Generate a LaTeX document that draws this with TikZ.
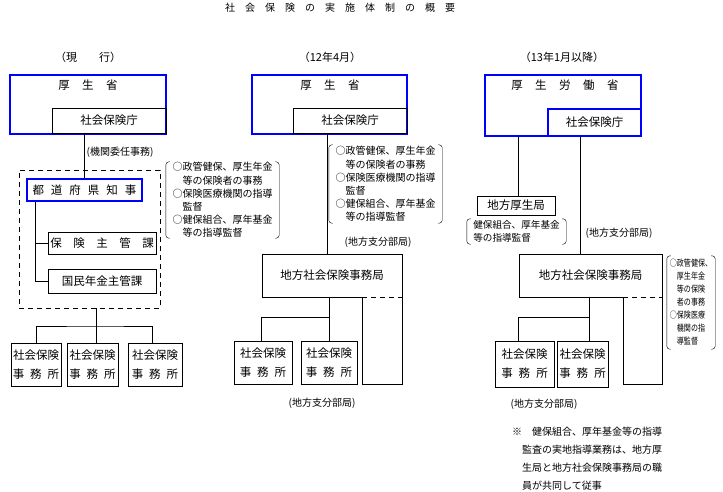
\documentclass[tikz,border=0pt]{standalone}
\usepackage{fontspec}
\setmainfont{Noto Sans CJK JP}
\newfontfamily\narrowjp[FakeStretch=0.78]{Noto Sans CJK JP}
\usetikzlibrary{positioning,calc}

% round brackets on both sides of a note
\newcommand{\parens}[1]{%
  \draw[rounded corners=3pt] ([xshift=4pt]#1.north west) -- (#1.north west) -- (#1.south west) -- ([xshift=4pt]#1.south west);
  \draw[rounded corners=3pt] ([xshift=-4pt]#1.north east) -- (#1.north east) -- (#1.south east) -- ([xshift=-4pt]#1.south east);}

\begin{document}
\begin{tikzpicture}[
  x=1pt, y=-1pt,
  box/.style={draw, line width=0.9pt, inner sep=0pt, align=center, font=\fontsize{11.5}{19}\selectfont},
  bluebox/.style={box, draw=blue, line width=1.2pt},
  office/.style={box, minimum height=43pt},
  note/.style={inner xsep=6pt, inner ysep=0pt, align=left, font=\fontsize{10}{13.2}\selectfont},
  lbl/.style={inner sep=0pt, font=\fontsize{10}{12}\selectfont},
  head/.style={inner sep=0pt, font=\fontsize{11}{13}\selectfont},
  conn/.style={line width=0.9pt}
]
  \useasboundingbox (0,0) rectangle (723,492);

  \node[lbl] (title) at (340,8) {社　会　保　険　の　実　施　体　制　の　概　要};
  \node[head] (hd1) at (88,57) {（現　　行）};
  \node[head] (hd2) at (330,57) {（12年4月）};
  \node[head] (hd3) at (562,57) {（13年1月以降）};

  % --- current system
  \node[bluebox, minimum width=156pt, minimum height=59pt] (mhw1) at (88,104.5) {};
  \node[head, font=\fontsize{11.5}{13}\selectfont] (mhw1t) at (88,85) {厚\hspace{12.5pt}生\hspace{12.5pt}省};
  \node[box, minimum width=114pt, minimum height=25pt] (sia1) at (109,120.5) {社会保険庁};
  \node[draw, dashed, dash pattern=on 5pt off 4pt, line width=0.9pt, minimum width=141pt, minimum height=138pt] (pref) at (89.5,239) {};
  \node[bluebox, minimum width=115pt, minimum height=22pt] (gov) at (84.5,190) {都\hspace{7pt}道\hspace{7pt}府\hspace{7pt}県\hspace{7pt}知\hspace{7pt}事};
  \node[box, minimum width=108pt, minimum height=22pt] (ins) at (102,243) {保\hspace{11.5pt}険\hspace{11.5pt}主\hspace{11.5pt}管\hspace{11.5pt}課};
  \node[box, minimum width=108pt, minimum height=24pt] (npc) at (102,281) {国民年金主管課};
  \node[lbl] (agency) at (120,152) {(機関委任事務)};
  \node[note, minimum width=113pt, minimum height=76pt] (note1) at (222.5,200) {○政管健保、厚生年金\\　等の保険者の事務\\○保険医療機関の指導\\　監督\\○健保組合、厚年基金\\　等の指導監督};
  \parens{note1}
  \node[office, minimum width=50pt] (o11) at (36,364.5) {社会保険\\事\hspace{6pt}務\hspace{6pt}所};
  \node[office, minimum width=51pt] (o12) at (92.5,364.5) {社会保険\\事\hspace{6pt}務\hspace{6pt}所};
  \node[office, minimum width=54pt] (o13) at (155,364.5) {社会保険\\事\hspace{6pt}務\hspace{6pt}所};

  \draw[conn] (gov.north) -- (gov.north |- sia1.south);
  \coordinate (br1) at ([xshift=9pt]gov.south west);
  \draw[conn] (br1) |- (npc.west);
  \draw[conn] (br1 |- ins.west) -- (ins.west);
  \coordinate (j1) at (96,326);
  \draw[conn] (j1 |- pref.south) -- (j1);
  \draw[conn] (o11.north) |- (j1) -| ([xshift=-3pt]o13.north);
  \draw[conn] (j1) -- (j1 |- o12.north);

  % --- April 2000
  \node[bluebox, minimum width=155pt, minimum height=59pt] (mhw2) at (329.5,104.5) {};
  \node[head, font=\fontsize{11.5}{13}\selectfont] (mhw2t) at (330,85) {厚\hspace{12.5pt}生\hspace{12.5pt}省};
  \node[box, minimum width=114pt, minimum height=25pt] (sia2) at (350,120.5) {社会保険庁};
  \node[note, minimum width=113pt, minimum height=78pt] (note2) at (385.5,184) {○政管健保、厚生年金\\　等の保険者の事務\\○保険医療機関の指導\\　監督\\○健保組合、厚年基金\\　等の指導監督};
  \parens{note2}
  \node[lbl] (reg2a) at (378,242) {(地方支分部局)};
  \node[box, minimum width=140pt, minimum height=43pt] (ro2) at (332,275.5) {地方社会保険事務局};
  \node[office, minimum width=58pt] (o21) at (263,362.5) {社会保険\\事\hspace{6pt}務\hspace{6pt}所};
  \node[office, minimum width=56pt] (o22) at (329,362.5) {社会保険\\事\hspace{6pt}務\hspace{6pt}所};
  \node[lbl] (reg2b) at (322,403) {(地方支分部局)};

  \coordinate (t2) at (327,200);
  \draw[conn] (t2 |- sia2.south) -- (t2 |- ro2.north);
  \coordinate (x2) at ([xshift=-40pt]ro2.south east);
  \draw[white, line width=1.4pt] (x2) -- (ro2.south east);
  \draw[conn, dash pattern=on 5pt off 4pt] (x2) -- (ro2.south east);
  \draw[conn] (x2) -- ++(0,87) -| (ro2.south east);
  \coordinate (j2) at (329,317);
  \draw[conn] (j2 |- ro2.south) -- (j2);
  \draw[conn] ([xshift=-2pt]o21.north) |- (j2) -- (o22.north);

  % --- January 2001
  \node[bluebox, minimum width=156pt, minimum height=61pt] (mhlw) at (563,105.5) {};
  \node[head, font=\fontsize{11.5}{13}\selectfont] (mhlwt) at (565,85) {厚\hspace{12.5pt}生\hspace{12.5pt}労\hspace{12.5pt}働\hspace{12.5pt}省};
  \node[bluebox, minimum width=93pt, minimum height=27pt] (sia3) at (594.5,122.5) {社会保険庁};
  \node[box, minimum width=78pt, minimum height=19pt] (rhb) at (516,205.5) {地方厚生局};
  \node[note, inner xsep=5pt, minimum width=99pt, minimum height=25pt, font=\fontsize{9.6}{13}\selectfont] (note3a) at (516.5,231.5) {健保組合、厚年基金\\等の指導監督};
  \parens{note3a}
  \node[lbl] (reg3a) at (619,233) {(地方支分部局)};
  \node[box, minimum width=143pt, minimum height=43pt] (ro3) at (590.5,275.5) {地方社会保険事務局};
  \node[note, inner xsep=2pt, minimum width=48pt, minimum height=93pt, font=\narrowjp\fontsize{9}{13}\selectfont] (note3b) at (691,302.5) {○政管健保、\\　厚生年金\\　等の保険\\　者の事務\\○保険医療\\　機関の指\\　導監督};
  \parens{note3b}
  \node[office, minimum width=59pt, minimum height=46pt] (o31) at (524.5,364) {社会保険\\事\hspace{6pt}務\hspace{6pt}所};
  \node[office, minimum width=51pt, minimum height=46pt] (o32) at (582.5,364) {社会保険\\事\hspace{6pt}務\hspace{6pt}所};
  \node[lbl] (reg3b) at (544,404) {(地方支分部局)};

  \coordinate (t3a) at (518,200);
  \draw[conn] (t3a |- rhb.north) -- (t3a |- mhlw.south);
  \coordinate (t3) at (580,200);
  \draw[conn] (t3 |- mhlw.south) -- (t3 |- ro3.north);
  \coordinate (x3) at ([xshift=-39pt]ro3.south east);
  \draw[white, line width=1.4pt] (x3) -- (ro3.south east);
  \draw[conn, dash pattern=on 5pt off 4pt] (x3) -- (ro3.south east);
  \draw[conn] (x3) -- ++(0,87) -| (ro3.south east);
  \coordinate (j3) at (589,317);
  \draw[conn] (j3 |- ro3.south) -- (j3);
  \draw[conn] ([xshift=-6.5pt]o31.north) |- (j3) -- (o32.north -| j3);

  % --- footnote
  \node[lbl, anchor=north west, align=left, font=\fontsize{10}{18}\selectfont] (foot) at (512,427) {※　健保組合、厚年基金等の指導\\　監査の実地指導業務は、地方厚\\　生局と地方社会保険事務局の職\\　員が共同して従事};
\end{tikzpicture}
\end{document}
